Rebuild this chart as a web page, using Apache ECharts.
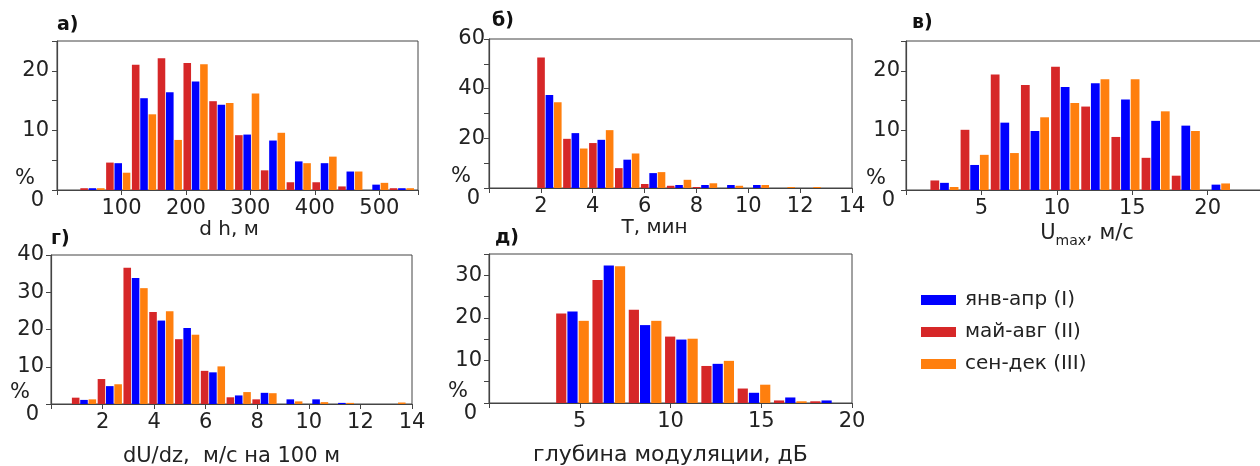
<!DOCTYPE html>
<html><head><meta charset="utf-8">
<script src="https://cdn.jsdelivr.net/npm/echarts@6/dist/echarts.min.js"></script>
<style>html,body{margin:0;padding:0;background:#fff}#c{width:1260px;height:466px}</style>
</head><body><div id="c"></div>
<script>
// ---- Series names ----
const seriesNames = ['май-авг (II)', 'янв-апр (I)', 'сен-дек (III)']; // drawing order: red, blue, orange
const legendOrder = ['янв-апр (I)', 'май-авг (II)', 'сен-дек (III)'];

// ---- Panel а: dh, м ----
const dhBins   = [55, 95, 135, 175, 215, 255, 295, 335, 375, 415, 455, 495, 535];
const dhMayAug = [0.3, 4.6, 21.0, 22.1, 21.3, 14.9, 9.2, 3.3, 1.3, 1.3, 0.6, 0, 0.3];
const dhJanApr = [0.3, 4.5, 15.4, 16.4, 18.2, 14.3, 9.3, 8.3, 4.8, 4.5, 3.1, 0.9, 0.3];
const dhSepDec = [0.3, 2.9, 12.7, 8.4, 21.1, 14.6, 16.2, 9.6, 4.5, 5.6, 3.1, 1.2, 0.3];
const dhXTicks = [100, 200, 300, 400, 500];
const dhYTicks = [10, 20];

// ---- Panel б: T, мин ----
const tBins   = [2.33, 3.33, 4.33, 5.33, 6.33, 7.33, 8.33, 9.33, 10.33, 11.33, 12.33];
const tMayAug = [52.6, 19.8, 18.1, 8.0, 1.6, 0.9, 0.4, 0, 0, 0, 0];
const tJanApr = [37.5, 22.1, 19.4, 11.4, 6.0, 1.2, 1.2, 1.2, 1.2, 0, 0];
const tSepDec = [34.5, 15.9, 23.3, 13.9, 6.4, 3.3, 1.9, 0.9, 1.2, 0.4, 0.4];
const tXTicks = [2, 4, 6, 8, 10, 12, 14];
const tYTicks = [20, 40, 60];

// ---- Panel в: Umax, м/с ----
const uBins   = [2.55, 4.55, 6.55, 8.55, 10.55, 12.55, 14.55, 16.55, 18.55, 20.55];
const uMayAug = [1.6, 10.1, 19.4, 17.6, 20.7, 14.0, 8.9, 5.4, 2.4, 0];
const uJanApr = [1.2, 4.2, 11.3, 9.9, 17.3, 17.9, 15.2, 11.6, 10.8, 0.9];
const uSepDec = [0.5, 5.9, 6.2, 12.2, 14.6, 18.6, 18.6, 13.2, 9.9, 1.1];
const uXTicks = [5, 10, 15, 20];
const uYTicks = [10, 20];

// ---- Panel г: dU/dz ----
const sBins   = [1.28, 2.28, 3.28, 4.28, 5.28, 6.28, 7.28, 8.28, 9.28, 10.28, 11.28, 12.28, 13.28];
const sMayAug = [1.7, 6.7, 36.6, 24.7, 17.4, 8.9, 1.8, 1.25, 0, 0, 0, 0, 0];
const sJanApr = [1.1, 4.8, 33.8, 22.4, 20.4, 8.5, 2.3, 3.0, 1.25, 1.25, 0.3, 0, 0];
const sSepDec = [1.25, 5.3, 31.1, 24.9, 18.6, 10.1, 3.2, 2.9, 0.7, 0.5, 0.3, 0, 0.4];
const sXTicks = [2, 4, 6, 8, 10, 12, 14];
const sYTicks = [10, 20, 30, 40];

// ---- Panel д: глубина модуляции, дБ ----
const mBins   = [4.6, 6.6, 8.6, 10.6, 12.6, 14.6, 16.6, 18.6];
const mMayAug = [21.0, 28.9, 21.9, 15.6, 8.7, 3.4, 0.6, 0.4];
const mJanApr = [21.5, 32.3, 18.3, 14.9, 9.2, 2.4, 1.3, 0.6];
const mSepDec = [19.3, 32.1, 19.3, 15.1, 9.9, 4.3, 0.4, 0];
const mXTicks = [5, 10, 15, 20];
const mYTicks = [10, 20, 30];

const colors = ['#d62728', '#0000ff', '#ff7f0e'];
const FONT = 'DejaVu Sans';
const AX = '#444';
const TXT = '#222';

const panels = [
  { title: 'а)', tl: [57, 16], grid: {left: 57, top: 41, width: 361, height: 149},
    xmax: 560, xint: 100, ymax: 25, yint: 5, bins: dhBins, vals: [dhMayAug, dhJanApr, dhSepDec],
    xt: dhXTicks, yt: dhYTicks, name: 'd h, м', nfs: 20, nameGap: 28, namePad: [0, 17, 0, 0], ym: 8, cg: '6%' },
  { title: 'б)', tl: [492, 12], grid: {left: 489, top: 39, width: 363, height: 149},
    xmax: 14, xint: 2, ymax: 60, yint: 10, bins: tBins, vals: [tMayAug, tJanApr, tSepDec],
    xt: tXTicks, yt: tYTicks, name: 'T, мин', nfs: 20, nameGap: 28, namePad: [0, 32, 0, 0], ym: 4, cg: '6%' },
  { title: 'в)', tl: [912, 14], grid: {left: 906, top: 41, width: 362, height: 149},
    xmax: 24, xint: 5, ymax: 25, yint: 5, bins: uBins, vals: [uMayAug, uJanApr, uSepDec],
    xt: uXTicks, yt: uYTicks, name: '{n|U}{s|max}{n|, м/с}', nfs: 21, nameGap: 30, namePad: [0, 0, 0, 0], ym: 6, cg: '7%' },
  { title: 'г)', tl: [51, 230], grid: {left: 51, top: 255, width: 361, height: 149},
    xmax: 14, xint: 2, ymax: 40, yint: 10, bins: sBins, vals: [sMayAug, sJanApr, sSepDec],
    xt: sXTicks, yt: sYTicks, name: 'dU/dz,  м/с на 100 м', nfs: 21, nameGap: 42, namePad: [0, 0, 0, 0], ym: 7, cg: '6%' },
  { title: 'д)', tl: [495, 229], grid: {left: 489, top: 254, width: 363, height: 149},
    xmax: 20, xint: 5, ymax: 35, yint: 5, bins: mBins, vals: [mMayAug, mJanApr, mSepDec],
    xt: mXTicks, yt: mYTicks, name: 'глубина модуляции, дБ', nfs: 22, nameGap: 41, namePad: [0, 0, 0, 0], ym: 7, cg: '10%' }
];

const option = {
  animation: false,
  backgroundColor: '#fff',
  textStyle: { fontFamily: FONT },
  title: [], grid: [], xAxis: [], yAxis: [], series: [],
  legend: {
    data: legendOrder, orient: 'vertical', left: 916, top: 285,
    itemWidth: 35, itemHeight: 10, itemGap: 12, icon: 'rect',
    textStyle: { fontFamily: FONT, fontSize: 20, color: TXT, padding: [0, 0, 0, 4] }
  }
};

panels.forEach((p, i) => {
  option.title.push({ text: p.title, left: p.tl[0], top: p.tl[1], padding: 0,
    textStyle: { fontFamily: FONT, fontSize: 19, fontWeight: 'bold', color: '#111' } });
  option.grid.push(Object.assign({ show: true, borderColor: AX, borderWidth: 1, backgroundColor: '#fff', outerBoundsMode: 'none', containLabel: false }, p.grid));
  option.xAxis.push({
    type: 'value', gridIndex: i, min: 0, max: p.xmax, interval: p.xint,
    splitLine: { show: false },
    axisLine: { show: true, onZero: false, lineStyle: { color: AX, width: 1.2 } },
    axisTick: { show: true, length: 5, lineStyle: { color: AX } },
    axisLabel: { fontFamily: FONT, fontSize: 21, color: TXT, margin: 8, showMinLabel: true, showMaxLabel: true,
      formatter: v => (p.xt.indexOf(v) >= 0 ? String(v) : '') },
    name: p.name, nameLocation: 'middle', nameGap: p.nameGap,
    nameTextStyle: { fontFamily: FONT, fontSize: p.nfs, color: TXT, padding: p.namePad,
      rich: { n: { fontFamily: FONT, fontSize: p.nfs, color: TXT },
              s: { fontFamily: FONT, fontSize: 14, color: TXT, padding: [14, 0, 0, 0] } } }
  });
  option.yAxis.push({
    type: 'value', gridIndex: i, min: 0, max: p.ymax, interval: p.yint,
    splitLine: { show: false },
    axisLine: { show: true, lineStyle: { color: AX, width: 1.2 } },
    axisTick: { show: true, length: 5, lineStyle: { color: AX } },
    axisLabel: { fontFamily: FONT, fontSize: 21, color: TXT, margin: p.ym, showMinLabel: true, showMaxLabel: true,
      formatter: v => (v === 0 ? '{p|%}\n{z|0}' : (p.yt.indexOf(v) >= 0 ? String(v) : '')),
      rich: { p: { fontFamily: FONT, fontSize: 21, color: TXT, align: 'right', lineHeight: 22, padding: [0, 14, 0, 0] },
              z: { fontFamily: FONT, fontSize: 21, color: TXT, align: 'right', lineHeight: 22, padding: [0, 5, 0, 0] } } }
  });
  p.vals.forEach((arr, k) => {
    option.series.push({
      type: 'bar', name: seriesNames[k], xAxisIndex: i, yAxisIndex: i,
      data: p.bins.map((b, j) => [b, arr[j]]),
      barGap: '10%', barCategoryGap: p.cg,
      itemStyle: { color: colors[k] }
    });
  });
});

const chart = echarts.init(document.getElementById('c'), null, { renderer: 'canvas' });
chart.setOption(option);
</script>
</body></html>
